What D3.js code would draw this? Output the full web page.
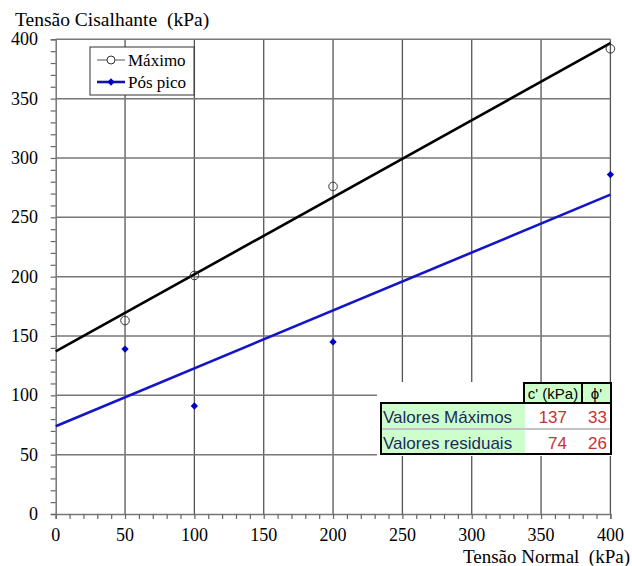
<!DOCTYPE html>
<html><head><meta charset="utf-8">
<script src="https://cdn.jsdelivr.net/npm/d3@7"></script>
<style>body{margin:0;background:#fff}svg{display:block}</style>
</head><body>
<script>
const xTicks = [0,50,100,150,200,250,300,350,400];
const yTicks = [0,50,100,150,200,250,300,350,400];
const maxX = [50,100,200,400];
const maxY = [163,201,276,392];
const posX = [50,100,200,400];
const posY = [139,91,145,286];
const seriesNames = ["Máximo","Pós pico"];
const cValues = [137,74];      // c' (kPa)
const phiValues = [33,26];     // phi' (deg)
const rowLabels = ["Valores Máximos","Valores residuais"];
const headerLabels = ["c' (kPa)","ϕ'"];

(function(){
const W=632,H=566;
const svg=d3.select("body").append("svg").attr("width",W).attr("height",H);
const x=d3.scaleLinear().domain([0,400]).range([55.7,610.4]);
const y=d3.scaleLinear().domain([0,400]).range([514,39.3]);
const serif="'Liberation Serif','Times New Roman',serif";
const sans="'Liberation Sans',Arial,sans-serif";

// grid
svg.append("g").selectAll("line").data(xTicks.slice(1)).join("line")
 .attr("x1",d=>x(d)).attr("x2",d=>x(d)).attr("y1",y(0)).attr("y2",y(400))
 .attr("stroke","#555").attr("stroke-width",1.3);
svg.append("g").selectAll("line").data(yTicks.slice(1)).join("line")
 .attr("x1",x(0)).attr("x2",x(400)).attr("y1",d=>y(d)).attr("y2",d=>y(d))
 .attr("stroke","#777").attr("stroke-width",1.5);

// axes
const yAxis=svg.append("g").attr("transform",`translate(${x(0)},0)`)
 .call(d3.axisLeft(y).tickValues(d3.range(0,401,10)).tickSize(5).tickFormat(""));
const xAxis=svg.append("g").attr("transform",`translate(0,${y(0)})`)
 .call(d3.axisBottom(x).tickValues(d3.range(0,401,10)).tickSize(5).tickFormat(""));
[xAxis,yAxis].forEach(a=>{a.select(".domain").attr("stroke","#777").attr("stroke-width",1.5);
 a.selectAll(".tick line").attr("stroke","#666").attr("stroke-width",1.2);});

svg.append("g").selectAll("text").data(yTicks).join("text")
 .attr("x",38).attr("y",d=>y(d)+6).attr("text-anchor","end")
 .attr("font-family",serif).attr("font-size",18).text(d=>d);
svg.append("g").selectAll("text").data(xTicks).join("text")
 .attr("x",d=>x(d)).attr("y",541).attr("text-anchor","middle")
 .attr("font-family",serif).attr("font-size",18).text(d=>d);

svg.append("text").attr("x",15).attr("y",26).attr("font-family",serif).attr("font-size",19.5)
 .style("white-space","pre").text("Tensão Cisalhante  (kPa)");
svg.append("text").attr("x",630).attr("y",563).attr("text-anchor","end").attr("font-family",serif).attr("font-size",19)
 .style("white-space","pre").text("Tensão Normal  (kPa)");

// trend lines from c', phi'
const colors=["#000","#1515c8"];
cValues.forEach((c,i)=>{
  const t=Math.tan(phiValues[i]*Math.PI/180);
  svg.append("line").attr("x1",x(0)).attr("y1",y(c)).attr("x2",x(400)).attr("y2",y(c+400*t))
   .attr("stroke",colors[i]).attr("stroke-width",2.6);
});

// points
svg.append("g").selectAll("circle").data(maxX).join("circle")
 .attr("cx",d=>x(d)).attr("cy",(d,i)=>y(maxY[i])).attr("r",4.3)
 .attr("fill","none").attr("stroke","#333").attr("stroke-width",1);
const dia=d3.symbol().type(d3.symbolDiamond2).size(34);
svg.append("g").selectAll("path").data(posX).join("path")
 .attr("d",dia).attr("transform",(d,i)=>`translate(${x(d)},${y(posY[i])})`).attr("fill","#0000c8");

// legend
const lg=svg.append("g");
lg.append("rect").attr("x",90).attr("y",47).attr("width",104).attr("height",48)
 .attr("fill","#fff").attr("stroke","#333").attr("stroke-width",1);
lg.append("line").attr("x1",97).attr("x2",125).attr("y1",60).attr("y2",60).attr("stroke","#555").attr("stroke-width",1);
lg.append("circle").attr("cx",111).attr("cy",60).attr("r",4).attr("fill","#fff").attr("stroke","#333");
lg.append("line").attr("x1",97).attr("x2",125).attr("y1",82).attr("y2",82).attr("stroke","#1515a0").attr("stroke-width",2.6);
lg.append("path").attr("d",dia).attr("transform","translate(111,82)").attr("fill","#0000c8");
lg.selectAll("text").data(seriesNames).join("text").attr("x",128).attr("y",(d,i)=>66+i*22)
 .attr("font-family",serif).attr("font-size",17).text(d=>d);

// table
const tb=svg.append("g");
tb.append("rect").attr("x",377).attr("y",382).attr("width",236).attr("height",74).attr("fill","#fff");
const hx=[524,582,611], tTop=383, hb=403, rows=[403,429,454], left=381;
tb.selectAll(".hc").data(headerLabels).join("rect").attr("x",(d,i)=>hx[i]).attr("y",tTop)
 .attr("width",(d,i)=>hx[i+1]-hx[i]).attr("height",hb-tTop).attr("fill","#ccffcc");
tb.selectAll(".rc").data(rowLabels).join("rect").attr("x",left).attr("y",(d,i)=>rows[i]+1)
 .attr("width",525-left).attr("height",24).attr("fill","#ccffcc");
tb.append("line").attr("x1",left).attr("x2",611).attr("y1",429).attr("y2",429).attr("stroke","#888").attr("stroke-width",1);
tb.append("path").attr("d",`M${hx[0]},${hb} V${tTop} H611 V454 H${left} V${hb} H611 M582,${tTop} V${hb}`)
 .attr("fill","none").attr("stroke","#000").attr("stroke-width",2);
tb.selectAll(".ht").data(headerLabels).join("text").attr("x",(d,i)=>(hx[i]+hx[i+1])/2).attr("y",399)
 .attr("text-anchor","middle").attr("font-family",sans).attr("font-size",15).text(d=>d);
tb.selectAll(".rt").data(rowLabels).join("text").attr("x",left+2).attr("y",(d,i)=>rows[i]+20)
 .attr("font-family",sans).attr("font-size",17).attr("fill","#1c2a5c").text(d=>d);
tb.selectAll(".cv").data(cValues).join("text").attr("x",567).attr("y",(d,i)=>rows[i]+20)
 .attr("text-anchor","end").attr("font-family",sans).attr("font-size",17).attr("fill","#c83232").text(d=>d);
tb.selectAll(".pv").data(phiValues).join("text").attr("x",607).attr("y",(d,i)=>rows[i]+20)
 .attr("text-anchor","end").attr("font-family",sans).attr("font-size",17).attr("fill","#c83232").text(d=>d);
})();
</script>
</body></html>
